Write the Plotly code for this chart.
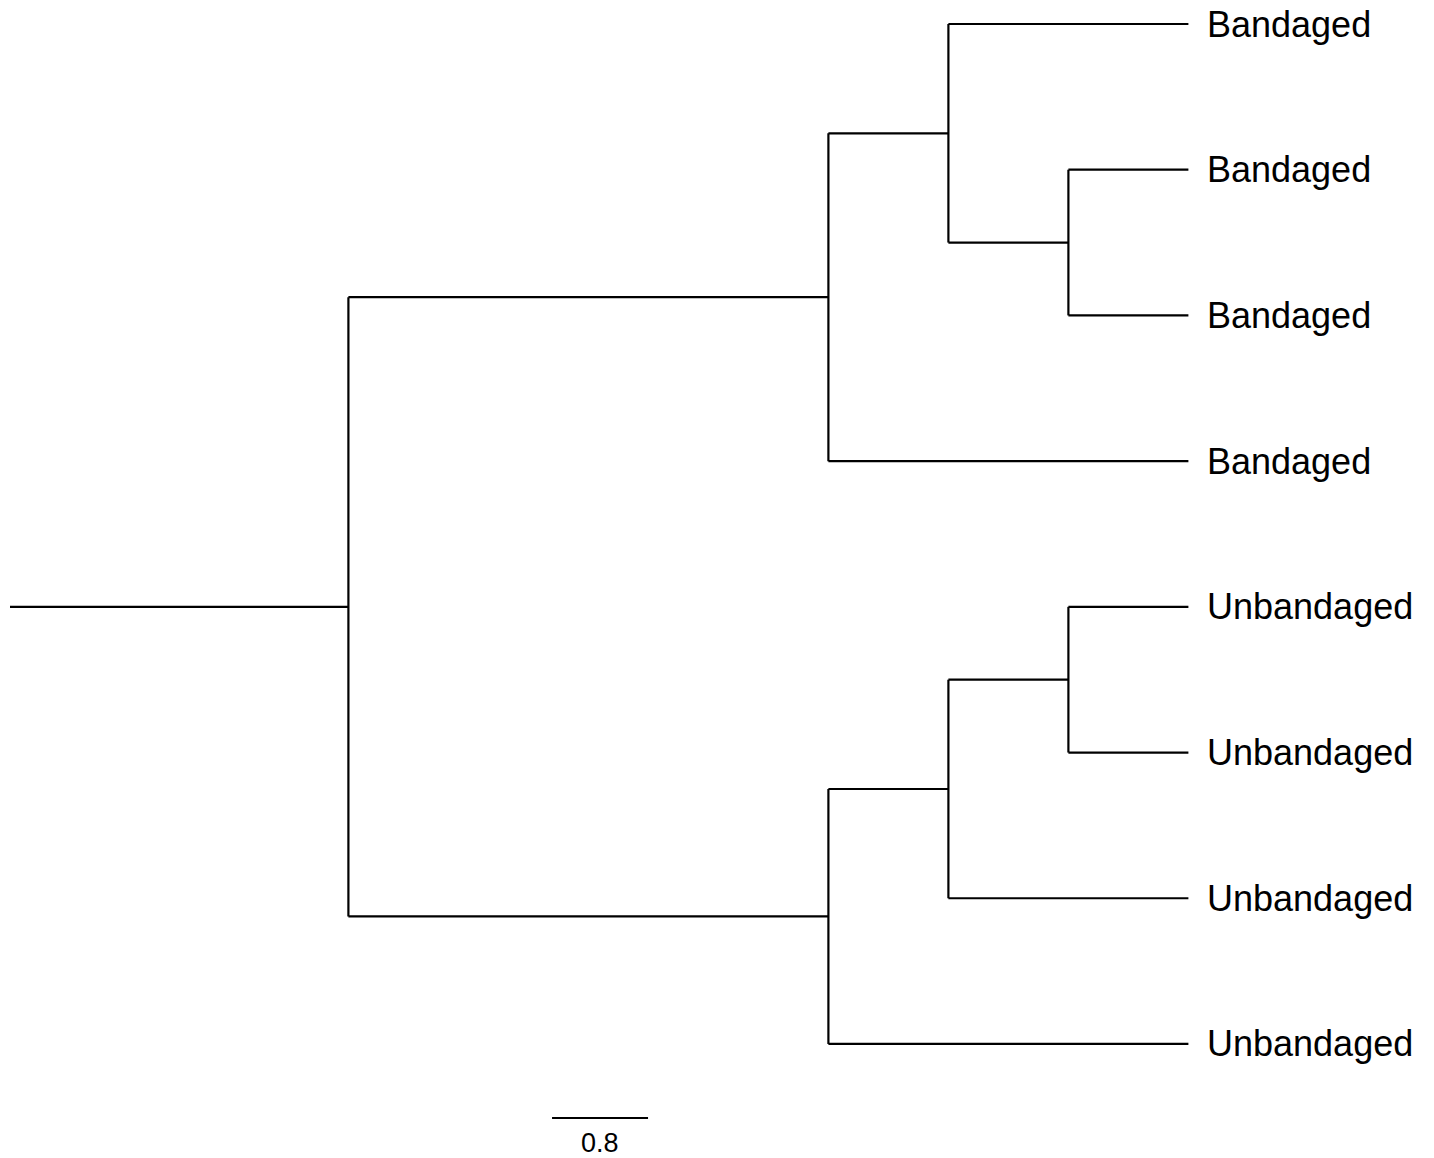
import plotly.graph_objects as go

# Tip labels, top to bottom
tip_labels = ["Bandaged", "Bandaged", "Bandaged", "Bandaged",
              "Unbandaged", "Unbandaged", "Unbandaged", "Unbandaged"]

# Tree topology: (children, branch length); tips are integer indices
root_edge = 2.82
tree = (
    [
        ([
            ([(0, 2.0), ([(1, 1.0), (2, 1.0)], 1.0)], 1.0),
            (3, 3.0),
        ], 4.0),
        ([
            ([([(4, 1.0), (5, 1.0)], 1.0), (6, 2.0)], 1.0),
            (7, 3.0),
        ], 4.0),
    ],
    root_edge,
)

scale_length = 0.8
scale_label = "0.8"

xs, ys = [], []
tips_xy = []


def layout(node, x_parent):
    """Draw a node and its subtree; return the node's vertical position."""
    content, length = node
    x = x_parent + length
    if isinstance(content, int):
        y = float(content)
        tips_xy.append((x, y, tip_labels[content]))
    else:
        child_ys = [layout(c, x) for c in content]
        y = (min(child_ys) + max(child_ys)) / 2
        xs.extend([x, x, None])
        ys.extend([min(child_ys), max(child_ys), None])
    xs.extend([x_parent, x, None])
    ys.extend([y, y, None])
    return y


layout(tree, 0.0)

fig = go.Figure()
fig.add_trace(go.Scatter(x=xs, y=ys, mode="lines",
                         line=dict(color="black", width=2.2),
                         hoverinfo="skip", showlegend=False))

# Scale bar
sb_x0 = 4.517
sb_y = 7.508
fig.add_trace(go.Scatter(x=[sb_x0, sb_x0 + scale_length], y=[sb_y, sb_y],
                         mode="lines", line=dict(color="black", width=2.2),
                         hoverinfo="skip", showlegend=False))
fig.add_annotation(x=sb_x0 + scale_length / 2, y=sb_y, text=scale_label,
                   showarrow=False, xanchor="center", yanchor="top", yshift=-8,
                   font=dict(family="Liberation Sans, Arial", size=27, color="black"))

for x, y, lab in tips_xy:
    fig.add_annotation(x=x, y=y, text=lab, showarrow=False,
                       xanchor="left", yanchor="middle", xshift=17, yshift=0,
                       font=dict(family="Liberation Sans, Arial", size=36, color="black"))

fig.update_xaxes(range=[-10 / 120, 1424 / 120], visible=False, fixedrange=True)
fig.update_yaxes(range=[(1158 - 24) / 145.71, -24 / 145.71], visible=False, fixedrange=True)
fig.update_layout(width=1434, height=1158, margin=dict(l=0, r=0, t=0, b=0),
                  plot_bgcolor="white", paper_bgcolor="white")

fig.write_html("out.html")
